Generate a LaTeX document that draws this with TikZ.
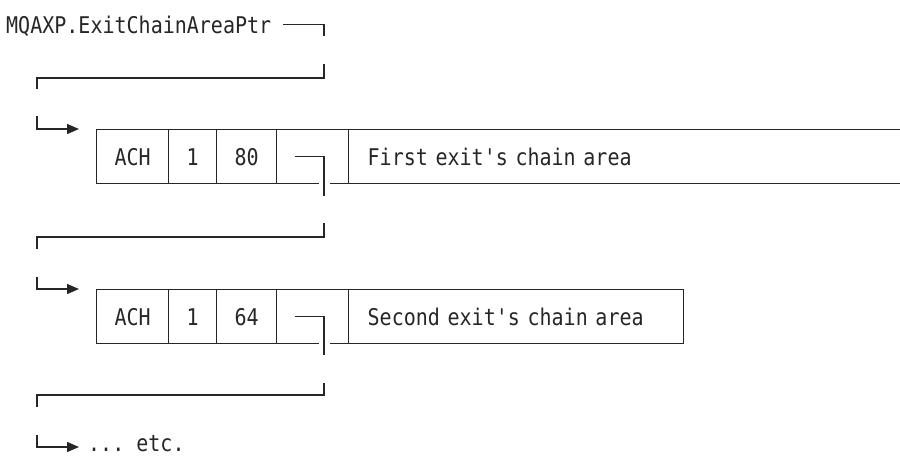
\documentclass[tikz,border=0pt]{standalone}
\usepackage{fontspec}
\setmonofont[FakeStretch=0.87]{DejaVu Sans Mono}
\usepackage{tikz}
\usetikzlibrary{arrows.meta}
\definecolor{ink}{rgb}{0.15, 0.15, 0.15}
\tikzset{
  every node/.style={font=\ttfamily\fontsize{23}{23}\selectfont, text=ink},
  cell/.style={draw=ink, line width=1.4pt, rectangle, anchor=north west, inner sep=0pt,
               minimum height=54pt, text height=35.5pt, text depth=18.5pt, minimum width=#1},
  wide/.style={cell=0pt, inner xsep=19pt, text width=#1, align=left},
  link/.style={draw=ink, line width=1.4pt},
  ptr/.style={link, preaction={draw=white, line width=11pt}},
  tip/.style={-{Triangle[length=12pt, width=10pt]}}
}

\begin{document}
\begin{tikzpicture}[x=1pt, y=-1pt]
\useasboundingbox (0,0) rectangle (900,456);
\clip (0,0) rectangle (900,456);

\node[anchor=base west, inner sep=0pt, text height=17pt, text depth=0pt] (t) at (6,33) {MQAXP.ExitChainAreaPtr};

% first chain area
\node[cell=72pt] (a1) at (96,129) {ACH};
\node[cell=48pt] (b1) at (168,129) {1};
\node[cell=60pt] (c1) at (216,129) {80};
\node[cell=72pt] (d1) at (276,129) {};
\node[wide=534pt] (e1) at (348,129) {First exit's chain area};

% second chain area
\node[cell=72pt] (a2) at (96,289) {ACH};
\node[cell=48pt] (b2) at (168,289) {1};
\node[cell=60pt] (c2) at (216,289) {64};
\node[cell=72pt] (d2) at (276,289) {};
\node[wide=297pt] (e2) at (348,289) {Second exit's chain area};

\node[anchor=base west, inner sep=0pt] (etc) at (88,451) {... etc.};

\coordinate (u0) at (324,36);
\coordinate (v0) at (324,64);
\coordinate (w0) at (37,89);
\coordinate (x0) at (37,116);
\coordinate (u1) at (324,196);
\coordinate (v1) at (324,223);
\coordinate (w1) at (37,249);
\coordinate (x1) at (37,277);
\coordinate (u2) at (324,355);
\coordinate (v2) at (324,383);
\coordinate (w2) at (37,407);
\coordinate (x2) at (37,435);
\coordinate (y2) at (79,447);

\draw[link] ([xshift=12pt]t.east) -| (u0);
\draw[link] (v0) -- ++(0,14) -| (w0);
\draw[link, tip] (x0) |- ([xshift=-17pt]a1.north west);

\draw[ptr] ([xshift=-18pt]d1.center) -| (u1);
\draw[link] (v1) -- ++(0,14) -| (w1);
\draw[link, tip] (x1) |- ([xshift=-17pt]a2.north west);

\draw[ptr] ([xshift=-18pt]d2.center) -| (u2);
\draw[link] (v2) -- ++(0,12) -| (w2);
\draw[link, tip] (x2) |- (y2);

\end{tikzpicture}
\end{document}
